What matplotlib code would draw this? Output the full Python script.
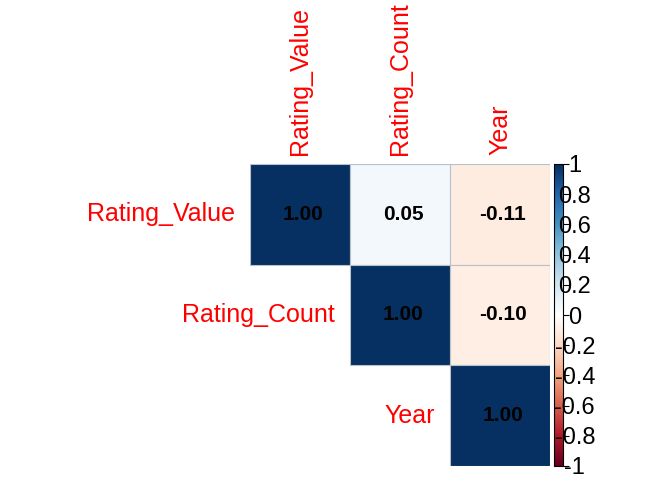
import numpy as np
import matplotlib
matplotlib.use("Agg")
import matplotlib.pyplot as plt
from matplotlib.colors import LinearSegmentedColormap, Normalize
from matplotlib.patches import Rectangle
from matplotlib.cm import ScalarMappable

plt.rcParams['font.family'] = ['Liberation Sans', 'DejaVu Sans']
plt.rcParams['axes.unicode_minus'] = False

# correlation matrix (upper triangle shown)
var_names = ['Rating_Value', 'Rating_Count', 'Year']
corr = np.array([[1.00, 0.05, -0.11],
                 [0.05, 1.00, -0.10],
                 [-0.11, -0.10, 1.00]])
cbar_ticks = [1, 0.8, 0.6, 0.4, 0.2, 0, -0.2, -0.4, -0.6, -0.8, -1]

# corrplot's RdBu palette
rdbu = ["#67001F", "#B2182B", "#D6604D", "#F4A582", "#FDDBC7", "#FFFFFF",
        "#D1E5F0", "#92C5DE", "#4393C3", "#2166AC", "#053061"]
cmap = LinearSegmentedColormap.from_list('corr_rdbu', rdbu, N=200)
norm = Normalize(-1, 1)

fig = plt.figure(figsize=(6.72, 4.8), dpi=100)
W, H = 672, 480
ax = fig.add_axes([250 / W, (H - 466) / H, 300 / W, 302 / H])
ax.set_xlim(-0.5, 2.5)
ax.set_ylim(2.5, -0.5)
ax.axis('off')

n = len(var_names)
for i in range(n):
    for j in range(i, n):
        v = corr[i, j]
        ax.add_patch(Rectangle((j - 0.5, i - 0.5), 1, 1, facecolor=cmap(norm(v)),
                               edgecolor='#b8c0cc', linewidth=0.8))
        ax.text(j + 0.03, i, f"{v:.2f}", ha='center', va='center',
                fontsize=15, fontweight='bold', color='black')

# row labels to the left of the diagonal
for i, name in enumerate(var_names):
    ax.text(i - 0.65, i, name, ha='right', va='center', fontsize=18,
            color='red', clip_on=False)

# column labels on top
for j, name in enumerate(var_names):
    ax.text(j, -0.59, name, ha='center', va='bottom', rotation=90,
            fontsize=18, color='red', clip_on=False)

# colour legend
cax = fig.add_axes([554 / W, (H - 466) / H, 9 / W, 302 / H])
sm = ScalarMappable(norm=norm, cmap=cmap)
cb = fig.colorbar(sm, cax=cax, ticks=cbar_ticks)
cb.outline.set_linewidth(0.8)
cb.ax.set_yticklabels([f"{t:g}" for t in cbar_ticks])
cb.ax.tick_params(length=4, width=0.8, pad=4.5, labelsize=17)
plt.setp(cb.ax.get_yticklabels(), ha='center')

fig.savefig('out.png', dpi=100)
